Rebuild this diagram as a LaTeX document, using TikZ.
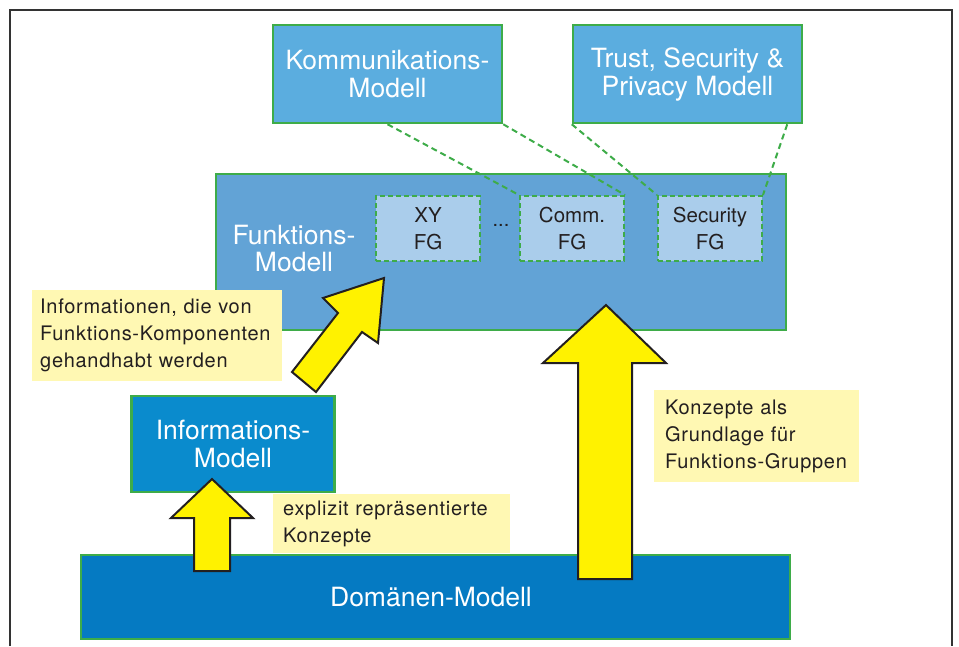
\documentclass[tikz,border=0pt]{standalone}
\usepackage{fontspec}
\setmainfont{TeX Gyre Heros}
\newfontfamily\notefont[LetterSpace=3.5]{TeX Gyre Heros}
\definecolor{fgreen}{HTML}{3EAC49}
\definecolor{lightblue}{HTML}{5BADDF}
\definecolor{funcblue}{HTML}{62A3D6}
\definecolor{fgfill}{HTML}{AACDEB}
\definecolor{infoblue}{HTML}{0A8BCD}
\definecolor{domblue}{HTML}{057AC2}
\definecolor{notefill}{HTML}{FFF8B3}
\definecolor{arrowyellow}{HTML}{FFF200}
\definecolor{textdark}{HTML}{231F20}
\definecolor{framegray}{HTML}{333333}
\begin{document}
\begin{tikzpicture}[x=1pt,y=-1pt,
  model/.style={draw=fgreen, line width=2.5pt, text=white, align=center,
    font=\fontsize{26.5}{28}\selectfont, inner sep=0pt},
  fgbox/.style={draw=fgreen, dash pattern=on 5pt off 3pt, line width=2pt,
    fill=fgfill, text=textdark, align=center, inner sep=0pt,
    font=\fontsize{20.5}{27}\selectfont, minimum width=104pt, minimum height=65pt},
  note/.style={fill=notefill, text=textdark, align=left, anchor=north west,
    font=\notefont\fontsize{20}{27}\selectfont, inner ysep=0pt},
  link/.style={draw=fgreen, dash pattern=on 6pt off 4pt, line width=2pt},
  blockarrow/.style={fill=arrowyellow, draw=textdark, line width=2pt, line join=miter}]

\useasboundingbox (0,0) rectangle (959,646);

% outer frame
\draw[framegray, line width=2.5pt] (10,646) -- (10,10) -- (952,10) -- (952,646);

% model boxes
\node[model, fill=lightblue, minimum width=229pt, minimum height=98pt]
  (komm) at (387.5,74) {Kommunikations-\\Modell};
\node[model, fill=lightblue, minimum width=229pt, minimum height=98pt]
  (trust) at (687.5,74) {Trust, Security \&\\Privacy Modell};
\node[model, fill=funcblue, minimum width=570pt, minimum height=156pt]
  (funk) at (501,252) {};
\node[text=white, align=center, font=\fontsize{26.5}{27}\selectfont, inner sep=0pt]
  (funklabel) at (294,249) {Funktions-\\Modell};

% function groups
\node[fgbox] (xy) at (428,228.5) {XY\\FG};
\node[fgbox] (comm) at (572,228.5) {Comm.\\FG};
\node[fgbox] (sec) at (710,228.5) {Security\\FG};
\node[text=textdark, font=\fontsize{20}{24}\selectfont, inner sep=0pt]
  (dots) at (501,225) {...};

\node[model, fill=infoblue, minimum width=203pt, minimum height=96pt]
  (info) at (233,444) {Informations-\\Modell};
\node[model, fill=domblue, minimum width=709pt, minimum height=84pt]
  (dom) at (435.5,597) {};
\node[text=white, font=\fontsize{26.5}{28}\selectfont, inner sep=0pt]
  (domlabel) at (431,597) {Domänen-Modell};

% dashed links between models and function groups
\draw[link] (komm.south) -- (comm.north west);
\draw[link] (komm.south east) -- (comm.north east);
\draw[link] (trust.south west) -- (sec.north west);
\draw[link] ([xshift=-16pt]trust.south east) -- (sec.north east);

% notes
\node[note, minimum width=250pt, minimum height=91pt, inner xsep=8pt, text width=234pt]
  (note1) at (32,290) {Informationen, die von\\Funktions-Komponenten\\gehandhabt werden};
\node[note, minimum width=237pt, minimum height=59pt, inner xsep=10pt, text width=217pt]
  (note2) at (273,494) {explizit repräsentierte\\Konzepte};
\node[note, minimum width=205pt, minimum height=92pt, inner xsep=11pt, text width=183pt]
  (note3) at (654,390) {Konzepte als\\Grundlage für\\Funktions-Gruppen};

% block arrows
\draw[blockarrow] (194,571) -- (194,518) -- (171,518) -- (212,479)
  -- (253,518) -- (230,518) -- (230,571) -- cycle;
\draw[blockarrow] (578,579) -- (578,363) -- (543,363) -- (606,305)
  -- (666,363) -- (632,363) -- (632,579) -- cycle;
\draw[blockarrow] (292,372) -- (338,313) -- (323,298) -- (384,278)
  -- (378,343) -- (362,332) -- (316,392) -- cycle;
\end{tikzpicture}
\end{document}
